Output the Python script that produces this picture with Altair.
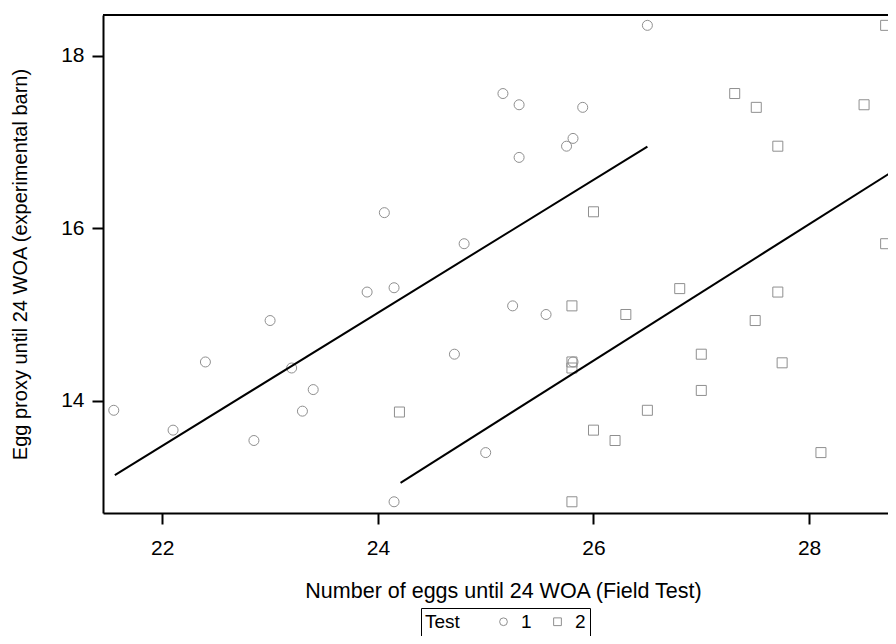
import altair as alt
import pandas as pd

# Group 1 (Test = 1)
g1_x = [21.55, 22.10, 22.40, 22.85, 23.00, 23.20, 23.30, 23.40, 23.90, 24.15,
        24.06, 24.80, 24.71, 25.00, 24.15, 25.25, 25.56, 25.81, 26.50, 25.16,
        25.31, 25.90, 25.81, 25.75, 25.31]
g1_y = [13.89, 13.66, 14.45, 13.54, 14.93, 14.38, 13.88, 14.13, 15.26, 15.31,
        16.18, 15.82, 14.54, 13.40, 12.83, 15.10, 15.00, 14.45, 18.35, 17.56,
        17.43, 17.40, 17.04, 16.95, 16.82]
# Group 2 (Test = 2)
g2_x = [26.00, 24.20, 25.80, 26.30, 26.80, 25.80, 25.80, 26.50, 26.00, 26.20,
        25.80, 27.71, 27.50, 27.00, 27.75, 27.00, 28.11, 28.71, 27.31, 27.51,
        28.51, 27.71, 28.79, 28.79, 28.71]
g2_y = [16.19, 13.87, 15.10, 15.00, 15.30, 14.45, 14.38, 13.89, 13.66, 13.54,
        12.83, 15.26, 14.93, 14.54, 14.44, 14.12, 13.40, 18.35, 17.56, 17.40,
        17.43, 16.95, 17.04, 16.83, 15.82]

# Fitted lines (end points)
fit1_x = [21.56, 26.50]
fit1_y = [13.14, 16.945]
fit2_x = [24.21, 28.79]
fit2_y = [13.05, 16.67]

x_ticks = [22, 24, 26, 28]
y_ticks = [14, 16, 18]

pts = pd.DataFrame({
    "x": g1_x + g2_x,
    "y": g1_y + g2_y,
    "Test": ["1"] * len(g1_x) + ["2"] * len(g2_x),
})
fits = pd.DataFrame({
    "x": fit1_x + fit2_x,
    "y": fit1_y + fit2_y,
    "Test": ["1"] * len(fit1_x) + ["2"] * len(fit2_x),
})

FONT = "Liberation Sans"
GRAY = "#8f8f8f"
W, H = 785, 498

xscale = alt.Scale(domain=[21.45, 21.45 + W / 107.8], nice=False, zero=False)
yscale = alt.Scale(domain=[12.70, 18.47], nice=False, zero=False)

points = alt.Chart(pts).mark_point(filled=False, strokeWidth=1, opacity=1,
                                   color=GRAY, size=100).encode(
    x=alt.X("x:Q", scale=xscale,
            axis=alt.Axis(values=x_ticks, title="Number of eggs until 24 WOA (Field Test)",
                          format="d", titleFontSize=21.5, titleX=400)),
    y=alt.Y("y:Q", scale=yscale,
            axis=alt.Axis(values=y_ticks, title="Egg proxy until 24 WOA (experimental barn)",
                          format="d", titleFontSize=20)),
    shape=alt.Shape("Test:N",
                    scale=alt.Scale(domain=["1", "2"], range=["circle", "square"]),
                    legend=alt.Legend(
                        orient="none", legendX=318, legendY=593,
                        direction="horizontal", titleOrient="left",
                        title="Test",
                        strokeColor="black", padding=4,
                        titleFont=FONT, titleFontSize=19, titleFontWeight="normal",
                        titleColor="black", titlePadding=34,
                        labelFont=FONT, labelFontSize=19, labelColor="black",
                        labelOffset=8, columnPadding=16,
                        symbolSize=60, symbolStrokeWidth=1,
                        symbolStrokeColor=GRAY, symbolFillColor="transparent",
                    )),
)

lines = alt.Chart(fits).mark_line(color="black", strokeWidth=2).encode(
    x=alt.X("x:Q", scale=xscale),
    y=alt.Y("y:Q", scale=yscale),
    detail="Test:N",
)

top_border = alt.Chart(pd.DataFrame({"k": [0]})).mark_rule(
    color="black", strokeWidth=2).encode(
    x=alt.value(0), x2=alt.value(W + 20), y=alt.value(0),
)

chart = alt.layer(points, lines, top_border).properties(
    width=W, height=H,
    autosize=alt.AutoSizeParams(type="none"),
    padding={"left": 95, "top": 7, "right": 0, "bottom": 123},
).configure_view(
    stroke=None,
).configure_axis(
    grid=False,
    domainColor="black", domainWidth=2,
    tickColor="black", tickWidth=2, tickSize=11,
    labelFont=FONT, labelFontSize=21, labelColor="black",
    titleFont=FONT, titleFontWeight="normal", titleColor="black",
).configure_axisX(
    labelPadding=13, titlePadding=22,
).configure_axisY(
    labelPadding=8, titlePadding=30,
)

chart.save("out.html", embed_options={"renderer": "svg", "actions": False})
